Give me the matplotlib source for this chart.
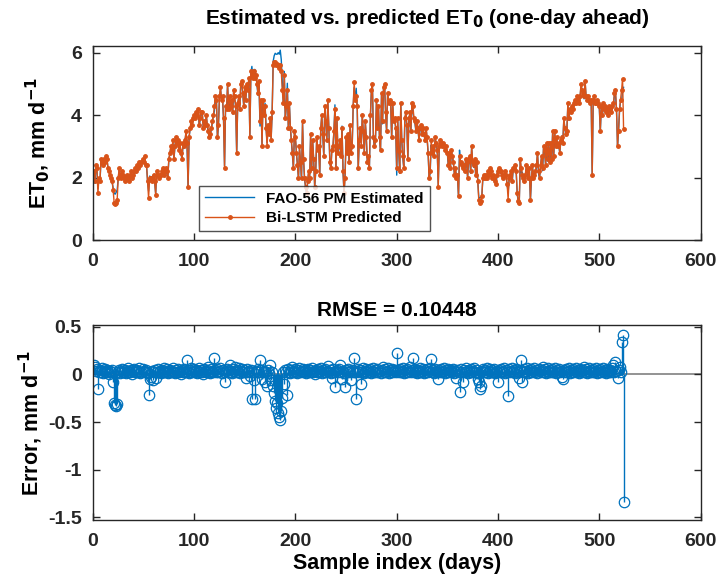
import numpy as np
import matplotlib.pyplot as plt

plt.rcParams['font.family'] = ['Liberation Sans', 'DejaVu Sans']
plt.rcParams['font.weight'] = 'bold'
plt.rcParams['mathtext.default'] = 'bf'
plt.rcParams['axes.unicode_minus'] = False

# Bi-LSTM predicted ET0 (mm/day), one value per day, 20 per row
predicted = [
    2.2, 1.9, 2.4, 2.3, 1.5, 2.0, 1.9, 2.6, 2.5, 2.4, 2.6, 2.5, 2.7, 2.6, 2.3, 2.2, 2.1, 2.0, 1.9, 1.6,
    1.2, 1.15, 1.2, 1.3, 2.0, 2.3, 2.1, 2.0, 2.2, 2.1, 2.0, 1.9, 2.0, 2.1, 2.0, 1.9, 2.1, 2.2, 2.0, 2.1,
    2.2, 2.3, 2.2, 2.4, 2.3, 2.5, 2.4, 2.5, 2.6, 2.5, 2.7, 2.4, 2.4, 1.9, 1.35, 2.0, 2.0, 1.9, 2.0, 2.1,
    1.9, 1.45, 2.2, 2.1, 2.0, 2.1, 2.1, 2.2, 2.3, 2.1, 2.2, 2.3, 2.2, 2.0, 2.6, 2.8, 3.0, 2.9, 3.2, 2.6,
    3.0, 3.3, 3.1, 3.2, 2.9, 3.1, 2.8, 2.6, 3.1, 3.0, 3.2, 3.5, 3.1, 1.7, 3.3, 3.6, 3.8, 3.7, 3.9, 4.0,
    3.9, 4.1, 4.0, 4.2, 3.7, 3.9, 4.1, 4.1, 3.6, 3.8, 3.7, 4.0, 3.7, 3.5, 3.3, 3.4, 3.6, 3.8, 4.0, 4.3,
    4.6, 4.5, 3.3, 3.7, 4.6, 4.9, 4.5, 4.6, 3.9, 2.3, 4.3, 4.2, 5.0, 4.2, 4.6, 4.3, 4.5, 4.1, 4.8, 4.6,
    4.3, 2.8, 4.4, 4.6, 4.2, 5.0, 5.1, 4.7, 4.3, 4.9, 4.5, 5.0, 4.8, 5.2, 3.3, 5.4, 5.3, 5.2, 5.4, 5.2,
    5.3, 5.0, 4.7, 5.1, 3.8, 4.5, 3.0, 4.5, 4.0, 4.3, 3.6, 3.0, 3.7, 3.4, 3.9, 3.2, 4.1, 5.6, 5.7, 5.7,
    5.6, 5.65, 5.6, 5.5, 5.6, 5.4, 4.8, 4.4, 5.3, 3.9, 4.3, 4.8, 3.6, 4.4, 3.6, 3.2, 2.8, 2.3, 3.5, 3.3,
    2.8, 2.4, 2.0, 3.0, 2.5, 2.0, 3.8, 2.6, 2.0, 1.7, 1.5, 1.9, 2.2, 2.0, 3.4, 2.3, 3.2, 2.6, 1.7, 2.2,
    3.3, 2.9, 3.0, 2.1, 3.6, 4.0, 3.4, 2.7, 4.3, 3.8, 3.2, 4.5, 3.6, 2.5, 2.3, 2.9, 3.0, 3.5, 4.2, 2.3,
    3.9, 2.8, 3.0, 3.2, 2.7, 3.6, 2.2, 1.5, 2.0, 3.3, 2.8, 3.4, 2.5, 3.7, 2.8, 3.0, 4.3, 5.05, 4.5, 4.6,
    4.3, 2.3, 3.2, 3.6, 3.0, 4.0, 3.5, 2.8, 3.8, 3.3, 2.5, 2.7, 2.3, 4.0, 4.8, 5.0, 3.3, 3.0, 3.2, 4.5,
    3.6, 4.3, 3.3, 2.9, 4.7, 3.8, 4.9, 5.0, 4.1, 3.5, 4.7, 4.4, 4.5, 4.4, 3.3, 4.4, 3.8, 3.9, 3.6, 2.3,
    3.9, 2.85, 2.2, 4.4, 3.2, 2.7, 2.3, 3.9, 4.1, 3.7, 2.6, 3.9, 4.1, 3.5, 4.4, 4.3, 3.9, 3.8, 3.5, 3.8,
    3.6, 3.2, 3.6, 3.7, 3.4, 3.6, 3.4, 3.2, 3.6, 3.3, 2.8, 2.0, 2.2, 3.2, 2.8, 3.0, 2.7, 3.3, 3.1, 2.9,
    1.7, 3.0, 3.2, 3.1, 3.0, 3.1, 3.0, 2.9, 3.0, 2.8, 2.4, 2.8, 2.3, 2.9, 2.7, 2.5, 2.1, 2.3, 2.0, 2.1,
    1.4, 2.7, 2.5, 2.4, 2.3, 2.4, 2.2, 2.6, 2.5, 2.0, 2.6, 2.7, 2.2, 3.0, 2.5, 2.4, 2.6, 2.1, 2.5, 1.9,
    1.3, 1.2, 1.25, 1.4, 2.0, 2.1, 2.0, 2.1, 2.0, 2.2, 2.1, 2.3, 2.2, 2.0, 2.1, 2.0, 1.9, 1.8, 2.1, 2.2,
    2.3, 2.2, 2.2, 2.1, 2.0, 2.1, 2.2, 2.1, 1.8, 1.3, 2.0, 2.1, 2.2, 1.9, 2.3, 2.3, 2.4, 2.2, 1.5, 1.25,
    1.2, 2.6, 2.3, 2.1, 2.0, 1.9, 2.1, 2.4, 2.2, 2.0, 2.3, 1.3, 2.0, 2.4, 2.0, 2.1, 2.2, 2.4, 2.8, 2.2,
    2.0, 2.4, 2.7, 2.3, 3.0, 2.9, 2.4, 3.1, 2.6, 3.1, 2.5, 3.1, 2.6, 3.5, 2.7, 3.5, 3.0, 3.3, 3.0, 3.1,
    2.8, 3.2, 3.3, 3.1, 3.9, 3.6, 3.4, 3.5, 4.4, 3.9, 4.2, 4.1, 4.3, 4.2, 4.4, 4.5, 4.4, 4.6, 4.5, 4.4,
    4.6, 5.0, 4.8, 4.7, 4.6, 5.1, 4.6, 4.5, 4.6, 4.5, 4.4, 4.5, 2.1, 4.5, 4.6, 4.4, 4.4, 4.5, 4.4, 4.3,
    3.5, 4.3, 4.0, 4.4, 4.2, 4.3, 4.1, 4.2, 4.0, 4.3, 4.2, 4.1, 4.3, 4.4, 4.7, 4.8, 4.2, 3.0, 3.5, 4.2,
    4.5, 4.8, 5.15, 3.55,
]

# prediction error (predicted - estimated), mm/day
error = [
    0.10, 0.08, 0.04, 0.06, -0.15, 0.02, 0.05, 0.03, 0.07, 0.01, 0.04, 0.06, 0.02, 0.05, 0.03, 0.00, 0.04, 0.02, 0.05, -0.08,
    -0.30, -0.32, -0.33, -0.31, 0.03, 0.05, 0.01, 0.04, 0.06, 0.02, 0.03, 0.05, 0.01, 0.04, 0.07, 0.02, 0.03, 0.05, 0.00, 0.04,
    0.06, 0.03, 0.05, 0.02, 0.04, 0.07, 0.01, 0.03, 0.06, 0.04, 0.02, 0.05, 0.03, 0.01, -0.22, -0.05, -0.03, 0.04, -0.06, 0.02,
    0.05, -0.04, 0.03, 0.06, 0.02, 0.04, 0.01, 0.05, 0.03, 0.07, 0.02, 0.04, 0.06, 0.01, 0.03, 0.05, 0.02, 0.04, 0.07, 0.03,
    0.01, 0.05, 0.03, 0.06, 0.02, 0.04, 0.00, 0.05, 0.03, 0.06, 0.02, 0.04, 0.15, 0.03, 0.01, 0.05, 0.07, 0.02, 0.04, 0.06,
    0.03, 0.05, 0.01, 0.04, 0.07, 0.02, 0.05, 0.03, 0.00, 0.06, 0.04, 0.02, 0.05, 0.08, 0.03, 0.01, 0.06, 0.04, 0.02, 0.17,
    0.05, 0.03, 0.06, 0.02, 0.04, 0.07, 0.01, 0.05, 0.03, -0.08, 0.04, 0.06, 0.02, 0.05, 0.10, 0.03, 0.01, 0.06, 0.04, 0.08,
    0.02, 0.05, 0.03, 0.07, 0.01, 0.04, 0.06, 0.02, 0.05, 0.03, -0.04, 0.06, 0.02, 0.04, -0.02, 0.05, -0.26, 0.03, -0.06, -0.26,
    0.04, 0.02, 0.06, 0.03, 0.15, 0.05, -0.05, 0.02, 0.04, -0.08, 0.03, -0.12, 0.05, 0.01, 0.10, -0.06, 0.02, -0.12, -0.20, -0.28,
    -0.35, -0.30, -0.40, -0.45, -0.48, -0.38, -0.25, 0.03, -0.10, 0.05, 0.02, -0.22, 0.06, 0.03, 0.01, 0.05, 0.08, 0.02, 0.04, 0.06,
    0.03, 0.01, 0.05, 0.07, 0.02, 0.04, 0.06, 0.03, 0.05, 0.01, 0.04, 0.06, 0.02, 0.05, 0.03, 0.07, 0.02, 0.04, 0.00, 0.05,
    0.03, 0.06, 0.02, 0.04, 0.07, 0.01, 0.05, 0.03, 0.06, 0.02, 0.04, 0.09, 0.03, 0.05, 0.01, -0.04, 0.06, 0.02, -0.13, 0.04,
    0.05, 0.02, 0.06, 0.10, 0.03, -0.05, 0.04, 0.01, -0.13, 0.05, 0.03, 0.06, 0.02, 0.04, -0.06, 0.05, 0.03, 0.17, 0.02, -0.26,
    0.04, 0.06, 0.02, 0.05, -0.10, 0.03, 0.07, 0.01, 0.04, 0.06, 0.02, 0.05, 0.03, 0.06, 0.01, 0.04, 0.07, 0.02, 0.05, 0.03,
    0.06, 0.02, 0.04, 0.01, 0.05, 0.08, 0.03, 0.06, 0.02, 0.04, 0.07, 0.01, 0.05, 0.03, 0.06, 0.02, 0.04, 0.05, 0.03, 0.22,
    0.05, 0.02, 0.06, 0.03, 0.04, 0.07, 0.01, 0.05, 0.03, 0.06, 0.02, 0.04, 0.08, 0.03, 0.05, 0.17, 0.02, 0.06, 0.04, 0.01,
    0.05, 0.03, 0.07, 0.02, 0.04, 0.06, 0.01, 0.05, 0.03, 0.06, 0.02, 0.04, 0.07, 0.16, 0.03, 0.05, 0.01, 0.06, 0.04, 0.02,
    -0.05, 0.05, 0.03, 0.06, 0.02, 0.04, 0.07, 0.01, 0.05, 0.03, 0.06, 0.02, 0.04, 0.05, 0.03, 0.06, 0.01, 0.04, -0.04, 0.05,
    0.02, -0.18, 0.06, 0.03, -0.08, 0.05, 0.02, 0.07, 0.04, 0.01, 0.05, 0.03, 0.06, 0.02, 0.04, 0.07, 0.03, 0.05, 0.01, -0.05,
    -0.08, -0.15, -0.12, 0.04, 0.06, 0.02, 0.05, 0.03, 0.07, 0.01, 0.04, 0.06, 0.02, 0.05, 0.03, 0.06, 0.01, 0.04, 0.02, -0.08,
    0.05, 0.03, 0.06, 0.02, 0.04, 0.07, 0.01, 0.05, 0.03, -0.23, 0.06, 0.02, 0.04, 0.07, 0.03, 0.05, 0.01, 0.06, 0.04, 0.02,
    -0.04, 0.05, 0.15, -0.08, 0.03, 0.06, 0.02, 0.04, 0.07, 0.01, 0.05, 0.03, 0.06, 0.02, 0.04, 0.07, 0.03, 0.05, 0.01, 0.06,
    0.04, 0.02, 0.05, 0.08, 0.03, 0.06, 0.01, 0.04, 0.07, 0.02, 0.05, 0.03, 0.06, 0.02, 0.04, 0.07, 0.01, 0.05, 0.03, 0.06,
    0.02, 0.04, -0.03, -0.05, 0.05, 0.03, 0.06, 0.02, 0.04, 0.07, 0.01, 0.05, 0.03, 0.06, 0.02, 0.04, 0.07, 0.03, 0.05, 0.01,
    0.06, 0.04, 0.02, 0.05, 0.08, 0.03, 0.06, 0.01, 0.04, 0.07, 0.02, 0.05, 0.03, 0.06, 0.02, 0.04, 0.07, 0.01, 0.05, 0.03,
    0.06, 0.02, 0.04, 0.07, 0.03, 0.05, 0.01, 0.06, 0.04, 0.02, 0.05, 0.03, 0.07, 0.10, 0.02, 0.13, 0.04, -0.04, 0.05, 0.08,
    0.02, 0.34, 0.41, -1.34,
]

rmse_label = 'RMSE = 0.10448'

pred = np.array(predicted)
err = np.array(error)
est = pred - err
days = np.arange(1, len(pred) + 1)

blue = '#0072BD'
orange = '#D95319'
axcol = '#262626'

fig = plt.figure(figsize=(7.2, 5.8), dpi=100)
ax1 = fig.add_axes([0.129, 0.586, 0.844, 0.334])
ax2 = fig.add_axes([0.129, 0.103, 0.844, 0.337])

ax1.plot(days, est, color=blue, lw=1.0, label='FAO-56 PM Estimated')
ax1.plot(days, pred, '.-', color=orange, lw=1.0, ms=5, label='Bi-LSTM Predicted')
ax1.set_xlim(0, 600)
ax1.set_ylim(0, 6.2)
ax1.set_yticks([0, 2, 4, 6])
ax1.set_title('Estimated vs. predicted ET$_0$ (one-day ahead)', fontsize=15, fontweight='bold',
              pad=16, x=0.55)
ax1.set_ylabel('ET$_0$, mm d$^{-1}$', fontsize=15.5, fontweight='bold')
ax1.yaxis.set_label_coords(-0.068, 0.5)
leg = ax1.legend(loc='lower left', bbox_to_anchor=(0.17, 0.03), fontsize=11, frameon=True,
                 fancybox=False, edgecolor=axcol, borderpad=0.4, handlelength=3.2,
                 labelspacing=0.35, borderaxespad=0.2)
leg.get_frame().set_linewidth(1.0)

ax2.axhline(0, color='#808080', lw=1.2, zorder=1)
markerline, stemlines, baseline = ax2.stem(days, err, linefmt='-', markerfmt='o', basefmt=' ')
plt.setp(stemlines, color=blue, lw=1.0)
plt.setp(markerline, color=blue, markerfacecolor='none', markersize=7.5, mew=0.9)
ax2.set_xlim(0, 600)
ax2.set_ylim(-1.53, 0.52)
ax2.set_yticks([-1.5, -1, -0.5, 0, 0.5])
ax2.set_yticklabels(['-1.5', '-1', '-0.5', '0', '0.5'])
ax2.set_title(rmse_label, fontsize=15, fontweight='bold', pad=6)
ax2.set_ylabel('Error, mm d$^{-1}$', fontsize=15.5, fontweight='bold')
ax2.yaxis.set_label_coords(-0.078, 0.5)
ax2.set_xlabel('Sample index (days)', fontsize=15.5, fontweight='bold', labelpad=2)

for ax in (ax1, ax2):
    ax.tick_params(direction='in', top=True, right=True, length=5, width=1,
                   labelsize=14, colors=axcol)
    ax.tick_params(axis='x', pad=9)
    ax.tick_params(axis='y', pad=8)
    for lab in ax.get_xticklabels() + ax.get_yticklabels():
        lab.set_fontweight('bold')
    for s in ax.spines.values():
        s.set_color(axcol)
        s.set_linewidth(1.0)

fig.savefig('out.png', dpi=100)
